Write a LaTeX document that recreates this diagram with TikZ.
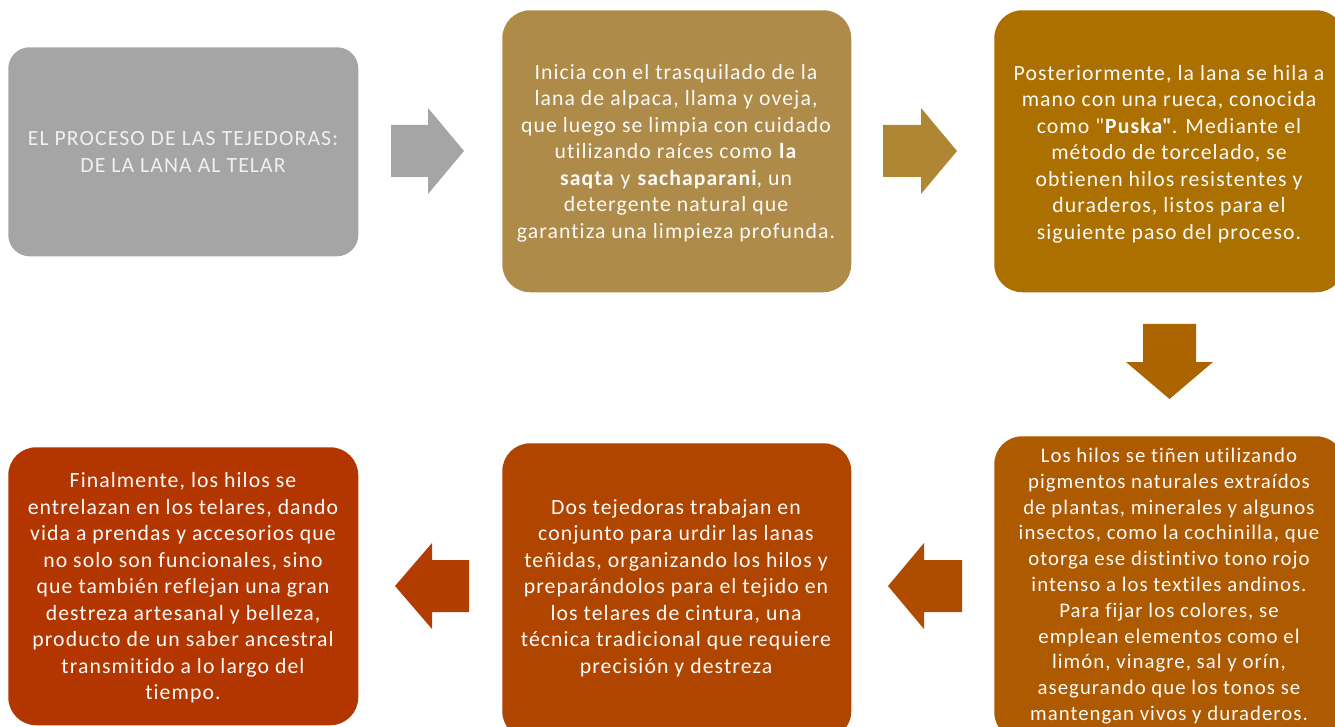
\documentclass[tikz,border=0pt]{standalone}
\usepackage{fontspec}
\setmainfont{Carlito}[Ligatures=NoCommon, LetterSpace=5.0]
\newfontfamily\plainq{Carlito}[LetterSpace=5.0]
\definecolor{cgray}{RGB}{165,165,165}
\definecolor{ctwo}{RGB}{174,139,72}
\definecolor{atwo}{RGB}{174,134,52}
\definecolor{cthree}{RGB}{172,112,0}
\definecolor{athree}{RGB}{172,100,0}
\definecolor{cfour}{RGB}{174,90,0}
\definecolor{afour}{RGB}{176,76,0}
\definecolor{cfive}{RGB}{176,69,0}
\definecolor{afive}{RGB}{179,60,0}
\definecolor{csix}{RGB}{179,54,0}
\definecolor{txtwhite}{RGB}{250,250,250}
\tikzset{
  card/.style={draw=none, rectangle, rounded corners=21pt, anchor=north west, inner sep=0pt},
  cardtext/.style={text=txtwhite, align=center, inner sep=0pt, font=\fontsize{16.3pt}{19.9pt}\selectfont},
  smalltext/.style={text=txtwhite, align=center, inner sep=0pt, font=\fontsize{15.6pt}{19.35pt}\selectfont}
}
\begin{document}
\begin{tikzpicture}[x=0.75pt,y=-0.75pt]
\path[use as bounding box, fill=white] (0,0) rectangle (1335,727);

% boxes
\node[card, fill=cgray, rounded corners=16pt, minimum width=262.5pt, minimum height=156.75pt] (b1) at (8,47) {};
\node[card, fill=ctwo, minimum width=261.75pt, minimum height=211.5pt] (b2) at (502,10) {};
\node[card, fill=cthree, minimum width=262.5pt, minimum height=211.5pt] (b3) at (994,10) {};
\node[card, fill=cfour, minimum width=262.5pt, minimum height=228pt] (b4) at (994,436) {};
\node[card, fill=cfive, minimum width=261.75pt, minimum height=222pt] (b5) at (502,443) {};
\node[card, fill=csix, minimum width=262.5pt, minimum height=208.5pt] (b6) at (8,447) {};

% texts
\node[cardtext, text=white!94!black] (t1) at (183,152) {EL PROCESO DE LAS TEJEDORAS:\\DE LA LANA AL TELAR};
\node[cardtext] (t2) at (676,153) {Inicia con el trasquilado de la\\lana de alpaca, llama y oveja,\\que luego se limpia con cuidado\\utilizando raíces como \textbf{la}\\\textbf{saqta} y \textbf{sachaparani}, un\\detergente natural que\\garantiza una limpieza profunda.};
\node[cardtext] (t3) at (1169,154) {Posteriormente, la lana se hila a\\mano con una rueca, conocida\\como {\plainq "}\textbf{Puska{\plainq\bfseries "}}. Mediante el\\método de torcelado, se\\obtienen hilos resistentes y\\duraderos, listos para el\\siguiente paso del proceso.};
\node[smalltext] (t4) at (1169,586) {Los hilos se tiñen utilizando\\pigmentos naturales extraídos\\de plantas, minerales y algunos\\insectos, como la cochinilla, que\\otorga ese distintivo tono rojo\\intenso a los textiles andinos.\\Para fijar los colores, se\\emplean elementos como el\\limón, vinagre, sal y orín,\\asegurando que los tonos se\\mantengan vivos y duraderos.};
\node[cardtext] (t5) at (676,588) {Dos tejedoras trabajan en\\conjunto para urdir las lanas\\teñidas, organizando los hilos y\\preparándolos para el tejido en\\los telares de cintura, una\\técnica tradicional que requiere\\precisión y destreza};
\node[cardtext] (t6) at (183,588) {Finalmente, los hilos se\\entrelazan en los telares, dando\\vida a prendas y accesorios que\\no solo son funcionales, sino\\que también reflejan una gran\\destreza artesanal y belleza,\\producto de un saber ancestral\\transmitido a lo largo del\\tiempo.};

% block arrows
\fill[cgray] (391,125) -- (428,125) -- (428,108) -- (464,151) -- (428,194) -- (428,177) -- (391,177) -- cycle;
\fill[atwo] (883,125) -- (921,125) -- (921,108) -- (957,151) -- (921,194) -- (921,177) -- (883,177) -- cycle;
\fill[athree] (1143,324) -- (1196,324) -- (1196,362) -- (1213,362) -- (1169.5,399) -- (1126,362) -- (1143,362) -- cycle;
\fill[afour] (962,560) -- (924,560) -- (924,543) -- (888,586) -- (924,629) -- (924,612) -- (962,612) -- cycle;
\fill[afive] (469,560) -- (432,560) -- (432,543) -- (395,586) -- (432,629) -- (432,612) -- (469,612) -- cycle;
\end{tikzpicture}
\end{document}
